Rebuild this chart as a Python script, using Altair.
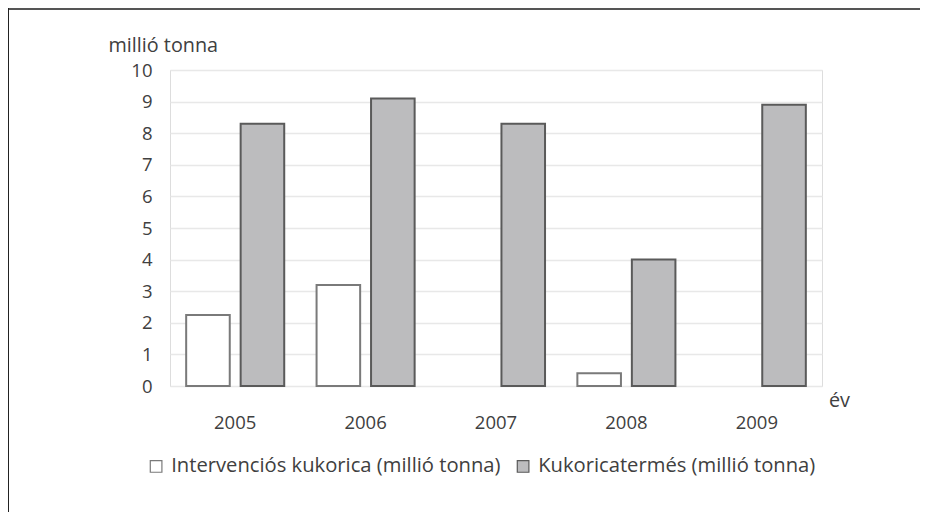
import altair as alt
import pandas as pd

years = ["2005", "2006", "2007", "2008", "2009"]
intervencios = [2.25, 3.2, None, 0.4, None]
termes = [8.3, 9.1, 8.3, 4.0, 8.9]
series = ["Intervenciós kukorica (millió tonna)", "Kukoricatermés (millió tonna)"]
fills = ["#ffffff", "#bcbcbe"]
strokes = ["#7a7a7a", "#5a5a5a"]

rows = []
for y, a, b in zip(years, intervencios, termes):
    if a is not None:
        rows.append({"ev": y, "sorozat": series[0], "ertek": a})
    if b is not None:
        rows.append({"ev": y, "sorozat": series[1], "ertek": b})
df = pd.DataFrame(rows)

FONT = "Open Sans"
TXT = "#404040"
FS = 18.5
FT = 19.8
FL = 20.2

legend = alt.Legend(title=None, orient="none", direction="horizontal",
                    legendX=-24, legendY=386, symbolType="square", symbolSize=135,
                    symbolStrokeWidth=1.2, labelFont=FONT, labelFontSize=FL,
                    labelColor=TXT, columnPadding=12, labelOffset=5, labelLimit=0,
                    symbolOpacity=1)

bars = alt.Chart(df).mark_bar(strokeWidth=2).encode(
    x=alt.X("ev:N", sort=years,
            scale=alt.Scale(paddingInner=0.248, paddingOuter=0.124),
            axis=alt.Axis(title="év", labelAngle=0, domain=False, ticks=False,
                          labelPadding=27, labelFontSize=FS, labelColor=TXT, labelFont=FONT,
                          titleFont=FONT, titleFontSize=FT, titleColor=TXT, titleFontWeight="normal",
                          titleX=669, titleY=14, titleAlign="center", titleBaseline="middle")),
    xOffset=alt.XOffset("sorozat:N", sort=series, scale=alt.Scale(paddingInner=0.2, paddingOuter=0)),
    y=alt.Y("ertek:Q", scale=alt.Scale(domain=[0, 10], nice=False),
            axis=alt.Axis(title="millió tonna", values=list(range(0, 11)), domain=False, ticks=False,
                          labelPadding=18, labelFontSize=FS, labelColor=TXT, labelFont=FONT,
                          gridColor="#e8e8e8", gridWidth=1.5,
                          titleFont=FONT, titleFontSize=FT, titleColor=TXT, titleFontWeight="normal",
                          titleAngle=0, titleX=-62, titleY=-25, titleAlign="left", titleBaseline="middle")),
    fill=alt.Fill("sorozat:N", sort=series, scale=alt.Scale(domain=series, range=fills), legend=legend),
    stroke=alt.Stroke("sorozat:N", sort=series, scale=alt.Scale(domain=series, range=strokes), legend=legend),
)

one = pd.DataFrame({"k": [0]})
top_line = alt.Chart(one).mark_rule(color="#555555", strokeWidth=2).encode(
    x=alt.value(-162), x2=alt.value(750), y=alt.value(-61))
left_line = alt.Chart(one).mark_rule(color="#222222", strokeWidth=1).encode(
    x=alt.value(-161.5), y=alt.value(-62), y2=alt.value(442))

chart = alt.layer(bars, top_line, left_line).properties(
    width=652, height=316,
    autosize=alt.AutoSizeParams(type="none"),
    padding={"left": 162, "top": 62, "right": 98, "bottom": 126},
).configure_view(stroke=None).configure(background="white")

chart.save("out.html", embed_options={"renderer": "svg", "actions": False})
